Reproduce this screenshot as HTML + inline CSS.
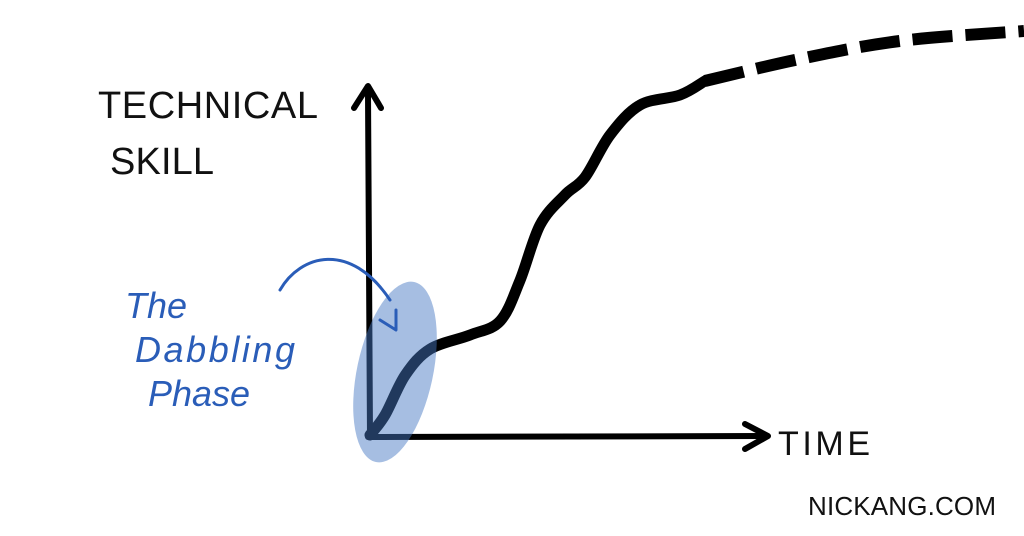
<!DOCTYPE html>
<html><head><meta charset="utf-8"><style>
html,body{margin:0;padding:0;background:#fff;width:1024px;height:536px;overflow:hidden}
svg{display:block}
.hand{font-family:"Liberation Sans",sans-serif;}
</style></head><body>
<svg id="chart" width="1024" height="536" viewBox="0 0 1024 536">
  <g>
    <path d="M370 437 L368 92" stroke="#000" stroke-width="6" fill="none" stroke-linecap="round"/>
    <path d="M354 108 L368 86 L381 108" stroke="#000" stroke-width="6" fill="none" stroke-linecap="round" stroke-linejoin="round"/>
  </g>
  <g>
    <path d="M368 437 L765 436" stroke="#000" stroke-width="6" fill="none" stroke-linecap="round"/>
    <path d="M745 424 L768 436 L745 449" stroke="#000" stroke-width="6" fill="none" stroke-linecap="round" stroke-linejoin="round"/>
  </g>
  <text class="hand" x="98" y="118" font-size="38" letter-spacing="2" fill="#111" textLength="222">TECHNICAL</text>
  <text class="hand" x="110" y="174" font-size="38" letter-spacing="2" fill="#111" textLength="106">SKILL</text>
  <text class="hand" x="778" y="455" font-size="34" fill="#111" textLength="92">TIME</text>
  <text class="hand" x="808" y="515" font-size="26" fill="#111" textLength="188">NICKANG.COM</text>
  <g id="curve"></g>
  <ellipse cx="395" cy="372" rx="38" ry="92" transform="rotate(12 395 372)" fill="rgba(70,120,195,0.48)"/>
  <g fill="#2a5db8">
    <path d="M280 290 C300 255 350 240 390 300" stroke="#2a5db8" stroke-width="3" fill="none" stroke-linecap="round"/>
    <path d="M380 320 L396 330 L396 310" stroke="#2a5db8" stroke-width="3" fill="none" stroke-linecap="round" stroke-linejoin="round"/>
    <text class="hand" x="125" y="318" font-size="36" font-style="italic">The</text>
    <text class="hand" x="135" y="362" font-size="36" font-style="italic" textLength="160">Dabbling</text>
    <text class="hand" x="148" y="406" font-size="36" font-style="italic">Phase</text>
  </g>
</svg>
<script>
// data: time (0..10) and technical skill (0..10)
const solidTime  = [0, 0.23, 0.54, 0.92, 1.53, 1.99, 2.29, 2.6, 2.98, 3.29, 3.67, 4.13, 4.74, 5.12];
const solidSkill = [0.05, 0.55, 1.55, 2.2, 2.55, 2.9, 3.9, 5.3, 6.05, 6.5, 7.55, 8.3, 8.55, 8.9];
const dashTime   = [5.12, 6.57, 8.1, 10];
const dashSkill  = [8.9, 9.45, 9.9, 10.15];

function xScale(t){ return 370 + t * 65.4; }
function yScale(s){ return 437 - s * 40; }

function smoothPath(ts, ss){
  const p = ts.map((t,i)=>[xScale(t), yScale(ss[i])]);
  let d = 'M' + p[0][0] + ' ' + p[0][1];
  for(let i=0;i<p.length-1;i++){
    const p0=p[Math.max(0,i-1)], p1=p[i], p2=p[i+1], p3=p[Math.min(p.length-1,i+2)];
    const c1=[p1[0]+(p2[0]-p0[0])/6, p1[1]+(p2[1]-p0[1])/6];
    const c2=[p2[0]-(p3[0]-p1[0])/6, p2[1]-(p3[1]-p1[1])/6];
    d += ` C${c1[0]} ${c1[1]} ${c2[0]} ${c2[1]} ${p2[0]} ${p2[1]}`;
  }
  return d;
}
const NS='http://www.w3.org/2000/svg';
const g=document.getElementById('curve');
const solid=document.createElementNS(NS,'path');
solid.setAttribute('d', smoothPath(solidTime, solidSkill));
solid.setAttribute('stroke','#000');solid.setAttribute('stroke-width','11');
solid.setAttribute('fill','none');solid.setAttribute('stroke-linecap','round');


g.appendChild(solid);
const dash=document.createElementNS(NS,'path');
dash.setAttribute('d', smoothPath(dashTime, dashSkill));
dash.setAttribute('stroke','#000');dash.setAttribute('stroke-width','12');
dash.setAttribute('fill','none');dash.setAttribute('stroke-dasharray','40 13');


g.appendChild(dash);
</script>
</body></html>
